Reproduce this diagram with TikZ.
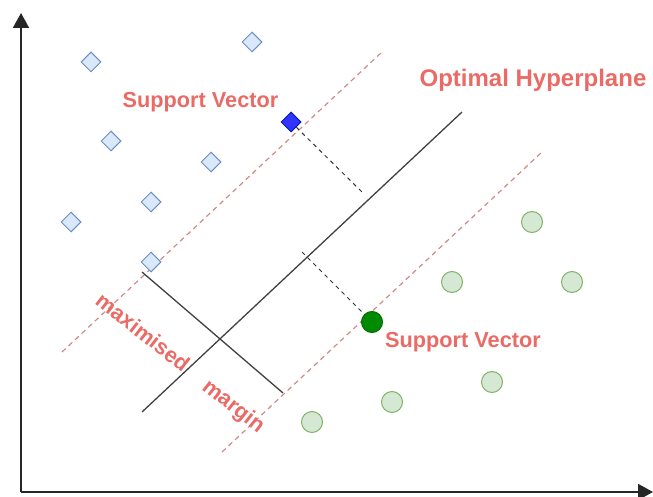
\documentclass[tikz,border=0pt]{standalone}
\usepackage{fontspec}
\setmainfont{Liberation Sans}
\usetikzlibrary{shapes.geometric,arrows.meta}
\definecolor{txtred}{HTML}{EA6B66}
\definecolor{blfill}{HTML}{DAE8FC}
\definecolor{bldraw}{HTML}{6C8EBF}
\definecolor{gnfill}{HTML}{D5E8D4}
\definecolor{gndraw}{HTML}{82B366}
\definecolor{svblue}{HTML}{3333FF}
\definecolor{svbdraw}{HTML}{001DBC}
\definecolor{svgreen}{HTML}{008A00}
\definecolor{dashred}{HTML}{D08A88}
\tikzset{
  pt/.style={draw=bldraw, fill=blfill, line width=1pt, shape=diamond, inner sep=0pt, minimum width=20pt, minimum height=20pt},
  gpt/.style={draw=gndraw, fill=gnfill, line width=1pt, circle, inner sep=0pt, minimum size=21pt},
  lab/.style={text=txtred, font=\fontsize{21.7}{26}\selectfont\bfseries, inner sep=0pt},
  biglab/.style={lab, font=\fontsize{24}{28}\selectfont\bfseries},
  axisline/.style={line width=2pt, draw=black!85, -{Triangle[length=15pt,width=16pt]}},
  marginline/.style={draw=dashred, line width=1.2pt, dash pattern=on 5pt off 4pt},
  perpline/.style={draw=black!80, line width=1pt, dash pattern=on 4pt off 4pt},
  solidline/.style={draw=black!75, line width=1.3pt}
}
\begin{document}
\begin{tikzpicture}[x=1pt,y=-1pt]
\useasboundingbox (0,0) rectangle (653,497);
% axes
\coordinate (o) at (21,492);
\coordinate (ytop) at (21,13);
\coordinate (xend) at (653,492);
\draw[axisline] (o) -- (ytop);
\draw[axisline] (o) -- (xend);
% margin lines
\coordinate (m1a) at (62,352);
\coordinate (m1b) at (382,52);
\coordinate (m2a) at (222,452);
\coordinate (m2b) at (542,152);
\draw[marginline] (m1a) -- (m1b);
\draw[marginline] (m2a) -- (m2b);
% hyperplane
\coordinate (h1) at (142,412);
\coordinate (h2) at (462,112);
\draw[solidline] (h1) -- (h2);
% margin width line
\coordinate (w1) at (142,272);
\coordinate (w2) at (283,393);
\draw[solidline] (w1) -- (w2);
% blue points
\node[pt] (d1) at (91,62) {};
\node[pt] (d2) at (252,42) {};
\node[pt] (d3) at (111,141) {};
\node[pt] (d4) at (211,162) {};
\node[pt] (d5) at (151,202) {};
\node[pt] (d6) at (71,222) {};
\node[pt] (d7) at (151,262) {};
\node[pt, draw=svbdraw, fill=svblue] (sv1) at (291,122) {};
% green points
\node[gpt] (c1) at (532,222) {};
\node[gpt] (c2) at (452,282) {};
\node[gpt] (c3) at (572,282) {};
\node[gpt] (c4) at (492,382) {};
\node[gpt] (c5) at (392,402) {};
\node[gpt] (c6) at (312,422) {};
\node[gpt, draw=svgreen!80!black, fill=svgreen] (sv2) at (372,322) {};
% perpendiculars
\coordinate (p1) at (362,192);
\coordinate (p2) at (302,252);
\draw[perpline] (sv1) -- (p1);
\draw[perpline] (p2) -- (sv2);
% labels
\node[lab] (l1) at (200.5,102) {Support Vector};
\node[lab] (l2) at (463,342) {Support Vector};
\node[biglab] (l3) at (533,80) {Optimal Hyperplane};
\node[lab, rotate=-38] (l4) at (143,332) {maximised};
\node[lab, rotate=-38] (l5) at (233,407) {margin};
\end{tikzpicture}
\end{document}
